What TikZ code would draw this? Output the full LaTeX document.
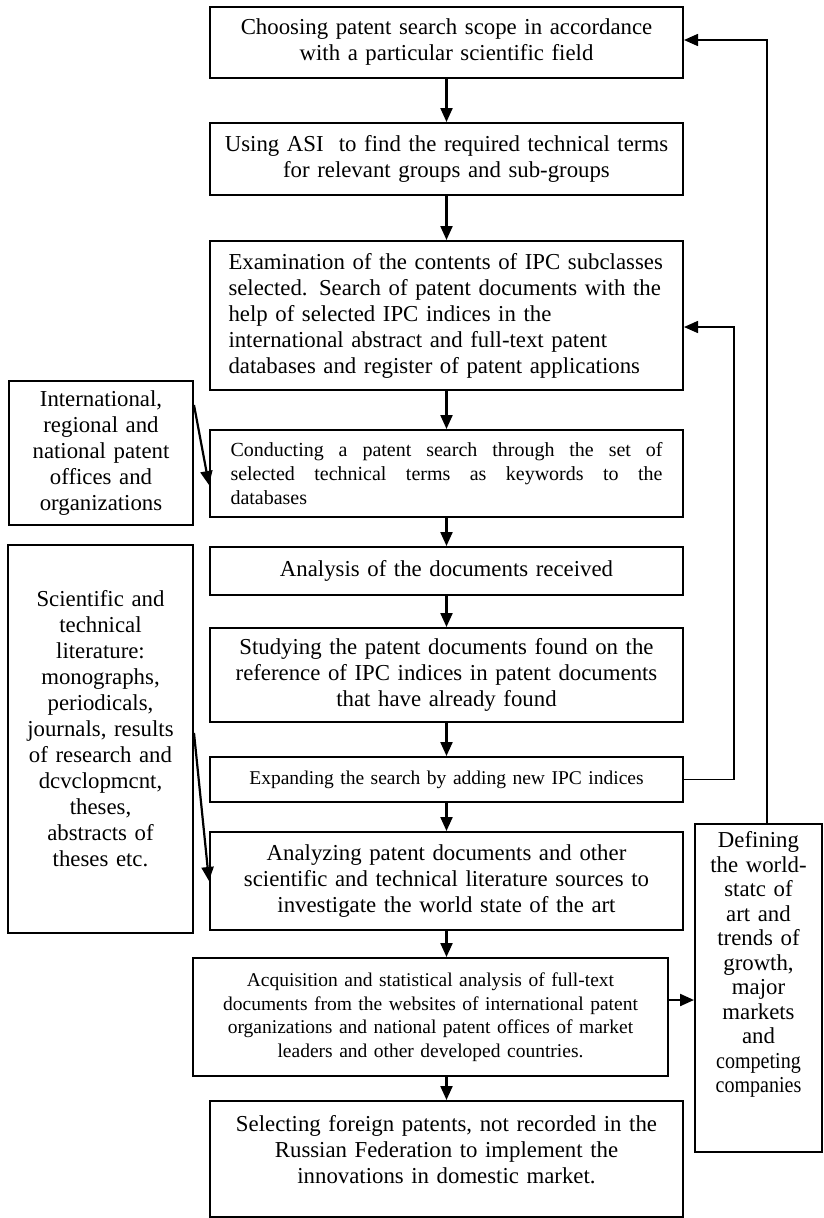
\documentclass[tikz,border=0pt]{standalone}
\usepackage{fontspec}
\usepackage{graphicx}
\setmainfont{Liberation Serif}
\usetikzlibrary{arrows.meta,calc}
\newcommand{\dropby}[1]{\rule[-#1]{0pt}{0pt}}
\newcommand{\jline}[1]{\leavevmode\hbox to 432pt{#1}}
\newcommand{\narrow}[1]{\scalebox{0.88}[1]{#1}}
\begin{document}
\begin{tikzpicture}[x=1pt,y=-1pt,
  every node/.style={font=\fontsize{22.8}{26}\selectfont},
  box/.style={draw, line width=2pt, inner sep=0pt, align=center},
  mainbox/.style={box, minimum width=473pt, text width=460pt},
  arr/.style={line width=2.2pt, -{Triangle[length=14pt,width=12pt]}},
  fb/.style={line width=1.5pt, -{Triangle[length=14pt,width=12pt]}}]
\useasboundingbox (0,0) rectangle (824,1218);

\node[mainbox, minimum height=71pt] (b1) at (446.5,42.5)
  {Choosing patent search scope in accordance\\with a particular scientific field};
\node[mainbox, minimum height=72pt] (b2) at (446.5,159)
  {Using ASI\ \ to find the required technical terms\\for relevant groups and sub-groups};
\node[box, minimum width=473pt, text width=436pt, align=left, minimum height=149pt] (b3) at (446.5,315.5)
  {Examination of the contents of IPC subclasses\\
   selected. Search of patent documents with the\\
   help of selected IPC indices in the\\
   international abstract and full-text patent\\
   databases and register of patent applications};
\node[box, font=\fontsize{20}{24}\selectfont, minimum width=473pt, text width=432pt, align=left, minimum height=87pt] (b4) at (446.5,473.5)
  {\jline{Conducting\hfill a\hfill patent\hfill search\hfill through\hfill the\hfill set\hfill of}\\
   \jline{selected\hfill technical\hfill terms\hfill as\hfill keywords\hfill to\hfill the}\\
   databases};
\node[mainbox, minimum height=48pt] (b5) at (446.5,571)
  {Analysis of the documents received};
\node[mainbox, minimum height=94pt] (b6) at (446.5,675)
  {Studying the patent documents found on the\\reference of IPC indices in patent documents\\that have already found};
\node[mainbox, font=\fontsize{19.5}{24}\selectfont, minimum height=45pt] (b7) at (446.5,779.5)
  {Expanding the search by adding new IPC indices};
\node[mainbox, minimum height=98pt] (b8) at (446.5,881)
  {Analyzing patent documents and other\\scientific and technical literature sources to\\investigate the world state of the art};
\node[box, font=\fontsize{19.5}{23.5}\selectfont, minimum width=475pt, text width=468pt, minimum height=118pt] (b9) at (430.5,1017)
  {Acquisition and statistical analysis of full-text\\documents from the websites of international patent\\organizations and national patent offices of market\\leaders and other developed countries.};
\node[mainbox, minimum height=116pt] (b10) at (446.5,1159)
  {Selecting foreign patents, not recorded in the\\Russian Federation to implement the\\innovations in domestic market.\dropby{19pt}};

\node[box, minimum width=184pt, text width=180pt, minimum height=144pt] (intl) at (101,453)
  {International,\\regional and\\national patent\\offices and\\organizations};
\node[box, minimum width=185pt, text width=180pt, minimum height=388pt] (sci) at (100.5,739)
  {Scientific and\\technical\\literature:\\monographs,\\periodicals,\\journals, results\\of research and\\dcvclopmcnt,\\theses,\\abstracts of\\theses etc.\dropby{22pt}};
\node[box, font=\fontsize{22.8}{24.5}\selectfont, minimum width=127pt, text width=124pt, minimum height=328pt] (def) at (758.5,988)
  {Defining\\the world-\\statc of\\art and\\trends of\\growth,\\major\\markets\\and\\\narrow{competing}\\\narrow{companies}\dropby{52pt}};

\draw[arr] (b1.south) -- (b2.north);
\draw[arr] (b2.south) -- (b3.north);
\draw[arr] (b3.south) -- (b4.north);
\draw[arr] (b4.south) -- (b5.north);
\draw[arr] (b5.south) -- (b6.north);
\draw[arr] (b6.south) -- (b7.north);
\draw[arr] (b7.south) -- (b8.north);
\draw[arr] (b8.south) -- (b8.south |- b9.north);
\draw[arr] (b9.south -| b10.north) -- (b10.north);
\draw[arr] ([yshift=17pt]b9.east) -- ([yshift=17pt]b9.east -| def.west);

\draw[arr] ([yshift=-25pt]intl.north east) -- ([yshift=-11.5pt]b4.west);
\draw[arr] ([yshift=6pt]sci.east) -- (b8.west);

\draw[fb] (b7.east) -- ++(50,0) |- ([yshift=-11.5pt]b3.east);
\draw[fb] ([xshift=8.5pt]def.north) |- ([yshift=2.5pt]b1.east);
\end{tikzpicture}
\end{document}
